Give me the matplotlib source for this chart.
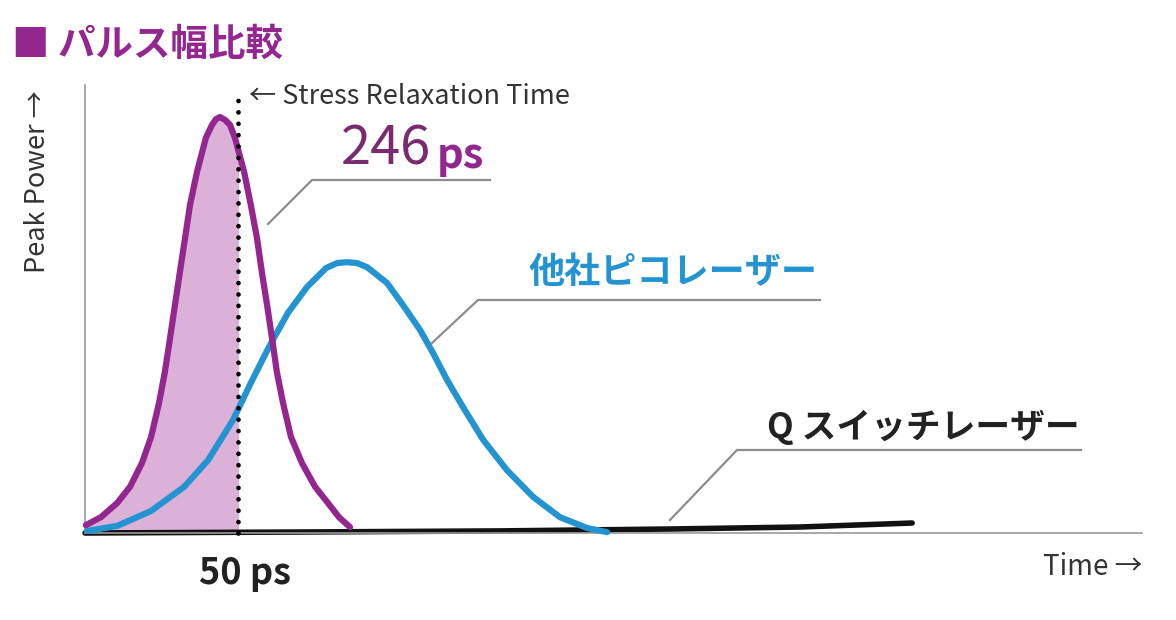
import matplotlib
matplotlib.use("Agg")
import matplotlib.pyplot as plt
from matplotlib.lines import Line2D
from matplotlib.patches import Rectangle

plt.rcParams['font.family'] = ['Noto Sans CJK JP', 'DejaVu Sans']

# pulse shapes (time in ps, peak power relative to our pulse)
ours_t = [0.3, 5.2, 10.5, 14.7, 18.6, 21.6, 24.2, 26.1, 27.8, 29.4, 31.0, 32.7, 34.3,
          36.6, 39.5, 41.5, 42.8, 44.1, 45.8, 47.4, 49.0, 52.0, 54.2, 56.2, 57.8,
          59.5, 61.1, 62.7, 64.7, 67.3, 70.9, 75.2, 79.4, 83.0, 86.6]
ours_p = [0.019, 0.038, 0.072, 0.111, 0.168, 0.231, 0.313, 0.387, 0.469, 0.548, 0.627,
          0.709, 0.788, 0.868, 0.950, 0.981, 0.995, 1.000, 0.993, 0.981, 0.950, 0.868,
          0.788, 0.709, 0.627, 0.548, 0.469, 0.387, 0.313, 0.231, 0.168, 0.111, 0.072,
          0.038, 0.014]

other_t = [0.7, 10.5, 21.6, 32.4, 40.2, 48.4, 54.2, 60.1, 66.3, 72.5, 78.8, 82.4, 85.6,
           88.9, 92.2, 98.7, 103.9, 109.5, 113.7, 118.3, 123.5, 130.1, 137.9, 146.4,
           155.2, 164.1, 170.6]
other_p = [0.005, 0.017, 0.053, 0.111, 0.175, 0.272, 0.361, 0.447, 0.529, 0.591, 0.637,
           0.649, 0.651, 0.649, 0.639, 0.601, 0.548, 0.488, 0.433, 0.368, 0.303, 0.224,
           0.151, 0.087, 0.038, 0.012, 0.002]

qsw_t = [0, 70.3, 135.6, 191.2, 233.7, 270.3]
qsw_p = [0, 0.0024, 0.005, 0.0096, 0.0144, 0.024]

relax_t = 50  # stress relaxation time, ps

PURPLE = '#93278f'
FILL = '#dcb1d8'
BLUE = '#2394d1'
GREY = '#8c8c8c'
TXT = '#333333'

W, H = 1176, 620
fig = plt.figure(figsize=(W / 100, H / 100), dpi=100)
ax = fig.add_axes([85 / W, 1 - 533 / H, (1142 - 85) / W, (533 - 85) / H])


def P(x, y):
    # pixel position -> figure fraction
    return x / W, 1 - y / H


# pulses
poly = ax.fill_between(ours_t, ours_p, 0, color=FILL, lw=0, zorder=1)
poly.set_clip_path(Rectangle((0, 0), relax_t, 2, transform=ax.transData))
ax.plot(qsw_t, qsw_p, color='#111111', lw=4, solid_capstyle='round', clip_on=False, zorder=2)
ax.plot(other_t, other_p, color=BLUE, lw=4.5, solid_capstyle='round',
        solid_joinstyle='round', clip_on=False, zorder=3)
ax.plot(ours_t, ours_p, color=PURPLE, lw=4.5, solid_capstyle='round',
        solid_joinstyle='round', clip_on=False, zorder=4)
ax.plot([relax_t, relax_t], [0, 1.065], color='black', lw=3.4,
        linestyle=(0, (0.01, 2.4)), dash_capstyle='round', clip_on=False, zorder=5)

ax.set_xlim(0, 345.4)
ax.set_ylim(0, 1.077)
ax.set_xticks([])
ax.set_yticks([])
for s in ['top', 'right']:
    ax.spines[s].set_visible(False)
for s in ['left', 'bottom']:
    ax.spines[s].set_color('#9a9a9a')
    ax.spines[s].set_linewidth(1.2)

# leader lines
for pts in [[(268, 224), (312, 180), (490, 180)],
            [(432, 343), (478, 300), (820, 300)],
            [(670, 520), (737, 450), (1081, 450)]]:
    xs = [P(*p)[0] for p in pts]
    ys = [P(*p)[1] for p in pts]
    fig.add_artist(Line2D(xs, ys, color=GREY, lw=1.6))

# texts
fig.text(*P(12, 44), '■ パルス幅比較', color=PURPLE, fontsize=27, fontweight='bold',
         ha='left', va='center')
fig.text(*P(38, 182), 'Peak Power →', color=TXT, fontsize=19.5, rotation=90,
         ha='center', va='center')
fig.text(*P(249, 96), '← Stress Relaxation Time', color=TXT, fontsize=19.5,
         ha='left', va='center')
fig.text(*P(341, 149), '246', color='#7a2a6e', fontsize=39, ha='left', va='center')
fig.text(*P(437, 156), 'ps', color=PURPLE, fontsize=30, fontweight='bold',
         ha='left', va='center')
fig.text(*P(528, 272), '他社ピコレーザー', color=BLUE, fontsize=26, fontweight='bold',
         ha='left', va='center')
fig.text(*P(767, 427), 'Q スイッチレーザー', color='#222222', fontsize=25,
         fontweight='bold', ha='left', va='center')
fig.text(*P(245, 573), '50 ps', color='#222222', fontsize=26, fontweight='bold',
         ha='center', va='center')
fig.text(*P(1142, 567), 'Time →', color=TXT, fontsize=20, ha='right', va='center')

fig.savefig('out.png', dpi=100, facecolor='white')
